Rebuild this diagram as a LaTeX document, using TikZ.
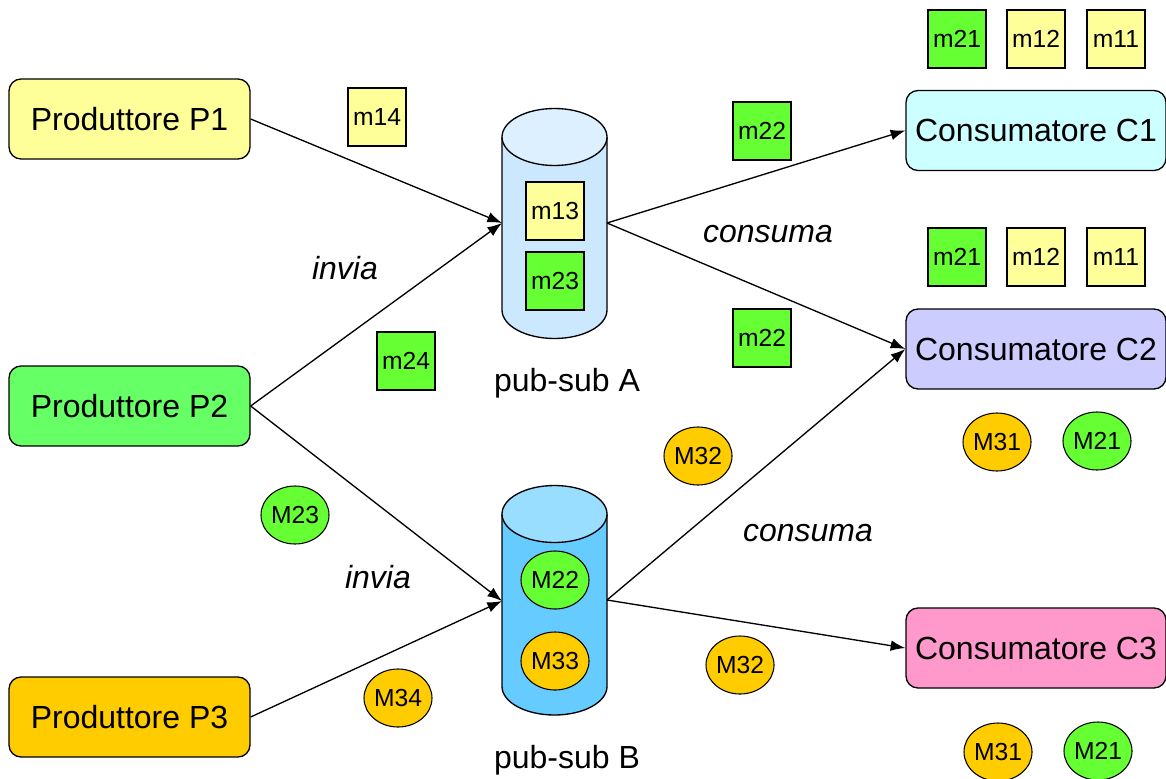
\documentclass[tikz,border=0pt]{standalone}
\usepackage{fontspec}
\setmainfont{Liberation Sans}
\usetikzlibrary{arrows.meta,shapes.geometric}
\definecolor{cyel}{HTML}{FFFF99}
\definecolor{cgrn}{HTML}{66FF33}
\definecolor{cgrnbox}{HTML}{66FF66}
\definecolor{corg}{HTML}{FFCC00}
\definecolor{cc1}{HTML}{CCFFFF}
\definecolor{cc2}{HTML}{CCCCFF}
\definecolor{cc3}{HTML}{FF99CC}
\definecolor{cylAbody}{HTML}{CCE8FF}
\definecolor{cylAtop}{HTML}{DDF0FF}
\definecolor{cylBbody}{HTML}{66CCFF}
\definecolor{cylBtop}{HTML}{99DDFF}
\tikzset{
  bigbox/.style={draw=black, line width=1pt, rounded corners=9pt, minimum width=180.75pt, minimum height=60pt, font=\fontsize{24}{27}\selectfont, inner sep=0pt},
  conbox/.style={draw=black, line width=1pt, rounded corners=9pt, minimum width=195pt, minimum height=60pt, font=\fontsize{24}{27}\selectfont, inner sep=0pt},
  msg/.style={draw=black, line width=0.8pt, minimum width=43.5pt, minimum height=43.5pt, inner sep=0pt, font=\fontsize{18.5}{20}\selectfont},
  emsg/.style={draw=black, line width=0.8pt, ellipse, minimum width=51pt, minimum height=43.5pt, inner sep=0pt, font=\fontsize{18.5}{20}\selectfont},
  lbl/.style={font=\fontsize{24}{27}\selectfont, inner sep=0pt},
  ilbl/.style={font=\fontsize{24}{27}\selectfont\itshape, inner sep=0pt},
  conn/.style={draw=black, line width=1pt, -{Latex[length=11pt,width=8pt]}},
  cylside/.style={draw=black, line width=1pt}
}
\begin{document}
\begin{tikzpicture}[x=0.75pt,y=-0.75pt]
\useasboundingbox (0,0) rectangle (1166,778);
% producers
\node[bigbox, fill=cyel] (P1) at (129.5,119) {Produttore P1};
\node[bigbox, fill=cgrnbox] (P2) at (129.5,406) {Produttore P2};
\node[bigbox, fill=corg] (P3) at (129.5,717) {Produttore P3};
% consumers
\node[conbox, fill=cc1] (C1) at (1036,130.5) {Consumatore C1};
\node[conbox, fill=cc2] (C2) at (1036,349) {Consumatore C2};
\node[conbox, fill=cc3] (C3) at (1036,648) {Consumatore C3};
% cylinder A
\fill[cylAbody] (502,137) -- (502,310) arc[start angle=180, end angle=0, x radius=52.5, y radius=28.5] -- (607,137) -- cycle;
\draw[cylside] (502,137) -- (502,310) arc[start angle=180, end angle=0, x radius=52.5, y radius=28.5] -- (607,137);
\draw[cylside, fill=cylAtop] (554.5,137) ellipse[x radius=52.5, y radius=28.5];
\node[draw=none, minimum width=78.75pt, minimum height=172.5pt, inner sep=0pt] (A) at (554.5,223) {};
\coordinate (Ain) at (502,223);
\coordinate (Aout) at (607,223);
% cylinder B
\fill[cylBbody] (502,514) -- (502,686.5) arc[start angle=180, end angle=0, x radius=52.5, y radius=28.5] -- (607,514) -- cycle;
\draw[cylside] (502,514) -- (502,686.5) arc[start angle=180, end angle=0, x radius=52.5, y radius=28.5] -- (607,514);
\draw[cylside, fill=cylBtop] (554.5,514) ellipse[x radius=52.5, y radius=28.5];
\node[draw=none, minimum width=78.75pt, minimum height=172.5pt, inner sep=0pt] (B) at (554.5,600) {};
\coordinate (Bin) at (502,601);
\coordinate (Bout) at (607,600);
% messages in queues
\node[msg, fill=cyel] (m13) at (555,211) {m13};
\node[msg, fill=cgrn] (m23) at (555,281) {m23};
\node[emsg, fill=cgrn] (M22) at (555,580) {M22};
\node[emsg, fill=corg] (M33) at (555,661) {M33};
% connectors
\draw[conn] (P1.east) -- (Ain);
\draw[conn] (P2.east) -- (Ain);
\draw[conn] (P2.east) -- (Bin);
\draw[conn] (P3.east) -- (Bin);
\draw[conn] (Aout) -- (C1.west);
\draw[conn] (Aout) -- (C2.west);
\draw[conn] (Bout) -- (C2.west);
\draw[conn] (Bout) -- (C3.west);
% labels
\node[ilbl] (inv1) at (345,268) {invia};
\node[ilbl] (inv2) at (378,577) {invia};
\node[ilbl] (cons1) at (768,234) {consuma};
\node[ilbl] (cons2) at (808,533) {consuma};
\node[lbl] (labA) at (567,383) {pub-sub A};
\node[lbl] (labB) at (567,760) {pub-sub B};
% floating messages
\node[msg, fill=cyel] (m14) at (377,117) {m14};
\node[msg, fill=cgrn] (m24) at (406,361) {m24};
\node[msg, fill=cgrn] (m22a) at (762,131) {m22};
\node[msg, fill=cgrn] (m22b) at (762,338) {m22};
\node[msg, fill=cgrn] (m21a) at (957,39) {m21};
\node[msg, fill=cyel] (m12a) at (1036,39) {m12};
\node[msg, fill=cyel] (m11a) at (1116,39) {m11};
\node[msg, fill=cgrn] (m21b) at (957,257) {m21};
\node[msg, fill=cyel] (m12b) at (1036,257) {m12};
\node[msg, fill=cyel] (m11b) at (1116,257) {m11};
\node[emsg, fill=corg] (M32a) at (698,456) {M32};
\node[emsg, fill=cgrn] (M23) at (295,515) {M23};
\node[emsg, fill=corg] (M34) at (398,698) {M34};
\node[emsg, fill=corg] (M32b) at (740,665) {M32};
\node[emsg, fill=corg] (M31a) at (997,442) {M31};
\node[emsg, fill=cgrn] (M21a) at (1097,441) {M21};
\node[emsg, fill=corg] (M31b) at (998,752) {M31};
\node[emsg, fill=cgrn] (M21b) at (1098,751) {M21};
\end{tikzpicture}
\end{document}
